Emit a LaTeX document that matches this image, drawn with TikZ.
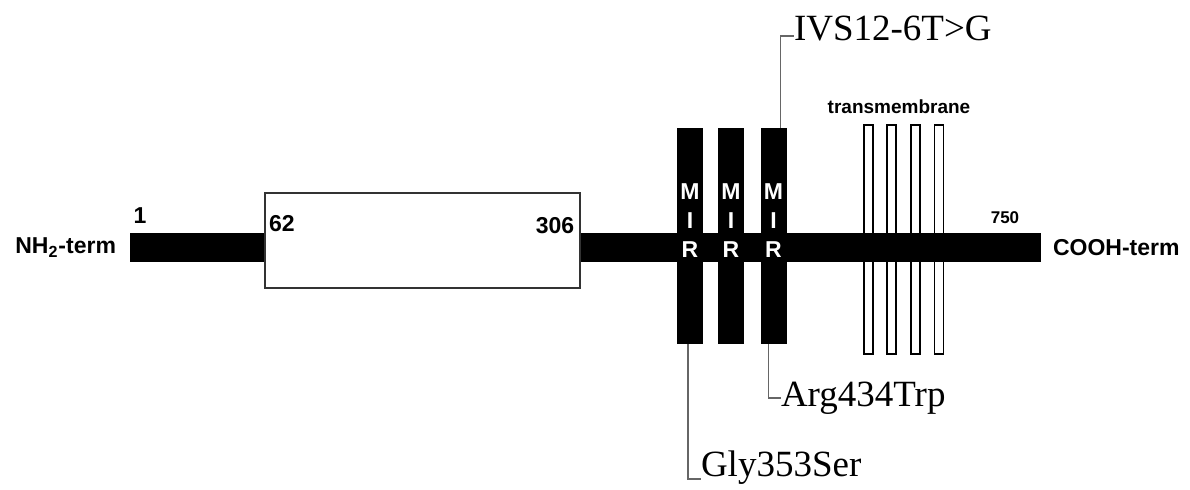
\documentclass[tikz,border=0pt]{standalone}
\usepackage{fontspec}
\setmainfont{Liberation Serif}
\setsansfont{Liberation Sans}
\usetikzlibrary{positioning}

\begin{document}
\begin{tikzpicture}[
    x=0.5pt, y=-0.5pt,
    every node/.style={inner sep=0pt, outer sep=0pt},
    chainbar/.style={fill=black, minimum width=455.5pt, minimum height=14.5pt},
    domainbox/.style={draw=black!80, fill=white, line width=1pt, minimum width=157.5pt, minimum height=47.5pt},
    mirbox/.style={fill=black, minimum width=13pt, minimum height=108pt},
    tmbox/.style={draw=black, fill=white, line width=0.7pt, minimum width=4.5pt, minimum height=114.5pt},
    resnum/.style={font=\sffamily\bfseries\fontsize{11.5}{13}\selectfont},
    resnumsmall/.style={font=\sffamily\bfseries\fontsize{8.5}{10}\selectfont},
    termlabel/.style={font=\sffamily\bfseries\fontsize{11.5}{13}\selectfont},
    mirtext/.style={text=white, align=center, font=\sffamily\bfseries\fontsize{11.5}{14.5}\selectfont},
    mutlabel/.style={font=\fontsize{18.5}{20}\selectfont},
    lead/.style={draw=black!60, line width=0.9pt}
]
\useasboundingbox (0,0) rectangle (1190,489);

    % --- transmembrane segments (behind the chain) ---
    \foreach \i/\x in {1/868.5, 2/891.5, 3/915.5, 4/939}
        \node[tmbox] (tm\i) at (\x, 239.5) {};
    \node[font=\sffamily\bfseries\fontsize{9.5}{11}\selectfont] (tmlabel) at (899, 107) {transmembrane};

    % --- protein chain and domain ---
    \node[chainbar] (bar) at (585.5, 247.5) {};
    \node[domainbox] (dom) at (422.5, 240.5) {};

    % --- MIR repeats ---
    \foreach \i/\x in {1/690, 2/731, 3/773.5} {
        \node[mirbox] (mir\i) at (\x, 236) {};
        \node[mirtext] at (\x, 221) {M\\I\\R};
    }

    % --- termini and residue numbers ---
    \node[termlabel, left=7pt of bar] (nterm) {NH\textsubscript{2}-term};
    \node[termlabel, right=6pt of bar] (cterm) {COOH-term};
    \node[resnum]      (p1)   at (140, 216) {1};
    \node[resnum]      (p62)  at (282, 224) {62};
    \node[resnum]      (p306) at (555, 226) {306};
    \node[resnumsmall] (p750) at (1005, 218) {750};

    % --- mutations ---
    \node[mutlabel, anchor=base west] (ivs) at (794, 40)  {IVS12-6T>G};
    \node[mutlabel, anchor=base west] (arg) at (781, 406) {Arg434Trp};
    \node[mutlabel, anchor=base west] (gly) at (701, 476) {Gly353Ser};

    \draw[lead] ([xshift=3.5pt]mir3.north) |- ([yshift=2pt]ivs.base west);
    \draw[lead] ([xshift=-2.5pt]mir3.south) |- ([yshift=4pt]arg.base west);
    \draw[lead] ([xshift=-1pt]mir1.south) |- ([yshift=-1.5pt]gly.base west);

\end{tikzpicture}
\end{document}
